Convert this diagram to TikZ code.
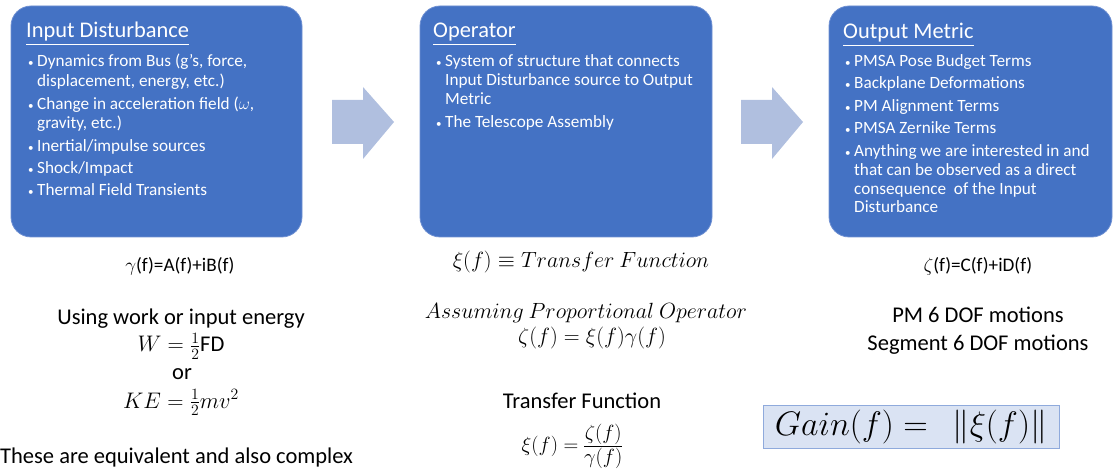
\RequirePackage{fix-cm}
\documentclass[tikz,border=0pt]{standalone}
\usepackage{amsmath,amssymb}
\usepackage{fontspec}
\setmainfont{Carlito}
\definecolor{boxblue}{HTML}{4472C4}
\definecolor{boxedge}{HTML}{6F90D2}
\definecolor{arrowblue}{HTML}{B0BFDF}
\definecolor{gainfill}{HTML}{DAE3F3}
\definecolor{gainline}{HTML}{8FAADC}
\tikzset{
  panel/.style={fill=boxblue, draw=boxedge, line width=0.8pt, rounded corners=20pt, inner sep=0pt},
  ttl/.style={anchor=base west, inner sep=0pt, text=white, font=\fontsize{22.4}{26}\selectfont},
  itm/.style={anchor=base west, inner sep=0pt, text=white, font=\fontsize{17.2}{20}\selectfont},
  lbl/.style={anchor=base, inner sep=0pt, font=\fontsize{22.5}{26}\selectfont},
  mlbl/.style={anchor=base, inner sep=0pt, font=\fontsize{22}{26}\selectfont},
  slbl/.style={anchor=base, inner sep=0pt, font=\fontsize{19.2}{22}\selectfont},
  bigarrow/.style={fill=arrowblue, draw=none},
  gainbox/.style={fill=gainfill, draw=gainline, line width=1pt, inner sep=0pt,
    minimum width=296pt, minimum height=43pt, font=\fontsize{34}{36}\selectfont},
}
\newcommand\bul{\makebox[0pt][r]{\fontsize{11}{11}\selectfont\textbullet\hspace{3.5pt}}}
\newcommand\tightfrac[2]{\vcenter{\offinterlineskip\halign{\hfil##\hfil\cr$#1$\cr\noalign{\kern1pt\hrule height0.6pt\kern1pt}$#2$\cr}}}
\begin{document}
\begin{tikzpicture}[x=1pt,y=-1pt]
\useasboundingbox (0,0) rectangle (1114,470);
% panels
\node[panel, minimum width=291pt, minimum height=231pt] (p1) at (156.5,121.5) {};
\node[panel, minimum width=292pt, minimum height=231pt] (p2) at (566,121.5) {};
\node[panel, minimum width=283pt, minimum height=231pt] (p3) at (970.5,121.5) {};
% block arrows
\draw[bigarrow] (332,100) -- (363,100) -- (363,87) -- (394,122) -- (363,159) -- (363,144) -- (332,144) -- cycle;
\draw[bigarrow] (741,100) -- (772,100) -- (772,87) -- (803,122) -- (772,159) -- (772,144) -- (741,144) -- cycle;
% panel 1
\node[ttl] (t1) at (26,38) {\underline{Input Disturbance}};
\node[itm] (a1) at (37,67) {\bul Dynamics from Bus (g’s, force,};
\node[itm] (a2) at (37,87) {displacement, energy, etc.)};
\node[itm] (a3) at (37,110) {\bul Change in acceleration field ($\omega$,};
\node[itm] (a4) at (37,129) {gravity, etc.)};
\node[itm] (a5) at (37,152) {\bul Inertial/impulse sources};
\node[itm] (a6) at (37,174) {\bul Shock/Impact};
\node[itm] (a7) at (37,196) {\bul Thermal Field Transients};
% panel 2
\node[ttl] (t2) at (433,38) {\underline{Operator}};
\node[itm] (b1) at (445,67) {\bul System of structure that connects};
\node[itm] (b2) at (445,86) {Input Disturbance source to Output};
\node[itm] (b3) at (445,105) {Metric};
\node[itm] (b4) at (445,128) {\bul The Telescope Assembly};
% panel 3
\node[ttl] (t3) at (843,39) {\underline{Output Metric}};
\node[itm] (c1) at (854,67) {\bul PMSA Pose Budget Terms};
\node[itm] (c2) at (854,89) {\bul Backplane Deformations};
\node[itm] (c3) at (854,112) {\bul PM Alignment Terms};
\node[itm] (c4) at (854,134) {\bul PMSA Zernike Terms};
\node[itm] (c5) at (854,157) {\bul Anything we are interested in and};
\node[itm] (c6) at (854,176) {that can be observed as a direct};
\node[itm] (c7) at (854,195) {consequence\ \ of the Input};
\node[itm] (c8) at (854,213) {Disturbance};
% lower left
\node[slbl] (g1) at (180,272) {$\gamma$(f)=A(f)+iB(f)};
\node[lbl] (u1) at (181,325) {Using work or input energy};
\node[lbl] (u2) at (181,352) {$W = \tfrac{1}{2}$FD};
\node[lbl] (u3) at (182,379) {or};
\node[lbl] (u4) at (181,408) {$KE = \tfrac{1}{2}mv^2$};
\node[lbl, anchor=base west] (u5) at (0,463) {These are equivalent and also complex};
% middle
\node[mlbl] (m1) at (581,268) {$\xi(f) \equiv Transfer\ Function$};
\node[mlbl] (m2) at (586,319) {$Assuming\ Proportional\ Operator$};
\node[mlbl] (m3) at (592,344) {$\zeta(f) = \xi(f)\gamma(f)$};
\node[lbl] (m4) at (582,408) {Transfer Function};
\node[mlbl, font=\fontsize{20.5}{24}\selectfont] (m5) at (572,451.5) {$\xi(f) = \tightfrac{\zeta(f)}{\gamma(f)}$};
% right
\node[slbl] (r1) at (978,272) {$\zeta$(f)=C(f)+iD(f)};
\node[lbl] (r2) at (978,323) {PM 6 DOF motions};
\node[lbl] (r3) at (978,350) {Segment 6 DOF motions};
\node[gainbox] (gain) at (911,426.5) {$Gain(f) =\ \ \|\xi(f)\|$};
\end{tikzpicture}
\end{document}
